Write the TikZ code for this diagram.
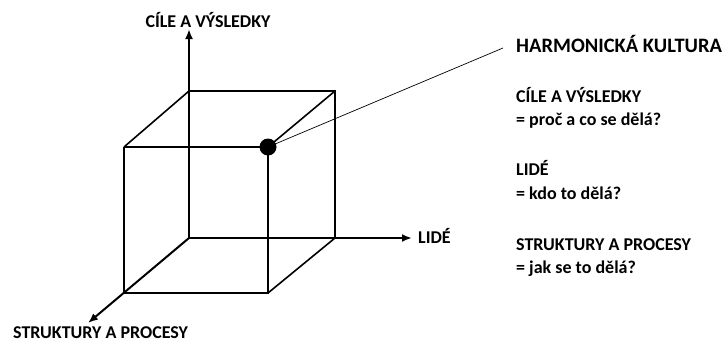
\documentclass[tikz,border=0pt]{standalone}
\usepackage{fontspec}
\setmainfont{Carlito}
\usetikzlibrary{arrows.meta}
\begin{document}
\begin{tikzpicture}[x=1bp,y=1bp,
  edge/.style={line width=1.6bp},
  axis/.style={line width=2bp,-{Latex[length=10bp,width=8bp]}},
  lbl/.style={font=\fontsize{18bp}{20bp}\selectfont\bfseries,inner sep=0pt},
  ttl/.style={font=\fontsize{20.5bp}{22bp}\selectfont\bfseries,inner sep=0pt},
  leader/.style={line width=0.7bp}]
\clip (0,0) rectangle (722,342);
\useasboundingbox (0,0) rectangle (722,342);
% cube corners
\coordinate (O)   at (189,104);
\coordinate (BTL) at (189,251);
\coordinate (BTR) at (335,251);
\coordinate (BBR) at (335,104);
\coordinate (FTL) at (124,195);
\coordinate (FBL) at (124,49);
\coordinate (FBR) at (268,49);
\coordinate (UP)  at (189,313);
\coordinate (RT)  at (412,104);
\coordinate (DG)  at (88,19);
\coordinate (LE)  at (503,294);
% axes
\draw[axis] (O) -- (UP);
\draw[axis] (O) -- (RT);
\draw[axis] (O) -- (DG);
% cube
\node[circle,fill=black,minimum size=17bp,inner sep=0pt] (dot) at (268,195) {};
\draw[edge] (BTL) -- (BTR) -- (BBR);
\draw[edge] (FTL) -- (dot.center) -- (FBR) -- (FBL) -- (FTL);
\draw[edge] (BTL) -- (FTL);
\draw[edge] (BTR) -- (dot.center);
\draw[edge] (BBR) -- (FBR);
\draw[leader] (dot.center) -- (LE);
% axis labels
\node[lbl,anchor=base] (lup) at (208,315) {CÍLE A VÝSLEDKY};
\node[lbl,anchor=base west] (lrt) at (418,99) {LIDÉ};
\node[lbl,anchor=base west] (ldg) at (13,4) {STRUKTURY A PROCESY};
% legend
\node[ttl,anchor=base west] (t0) at (516,290) {HARMONICKÁ KULTURA};
\node[lbl,anchor=base west] (t1) at (516,240) {CÍLE A VÝSLEDKY};
\node[lbl,anchor=base west] (t2) at (516,217) {= proč a co se dělá?};
\node[lbl,anchor=base west] (t3) at (516,167) {LIDÉ};
\node[lbl,anchor=base west] (t4) at (516,143) {= kdo to dělá?};
\node[lbl,anchor=base west] (t5) at (516,92) {STRUKTURY A PROCESY};
\node[lbl,anchor=base west] (t6) at (516,69) {= jak se to dělá?};
\end{tikzpicture}
\end{document}
